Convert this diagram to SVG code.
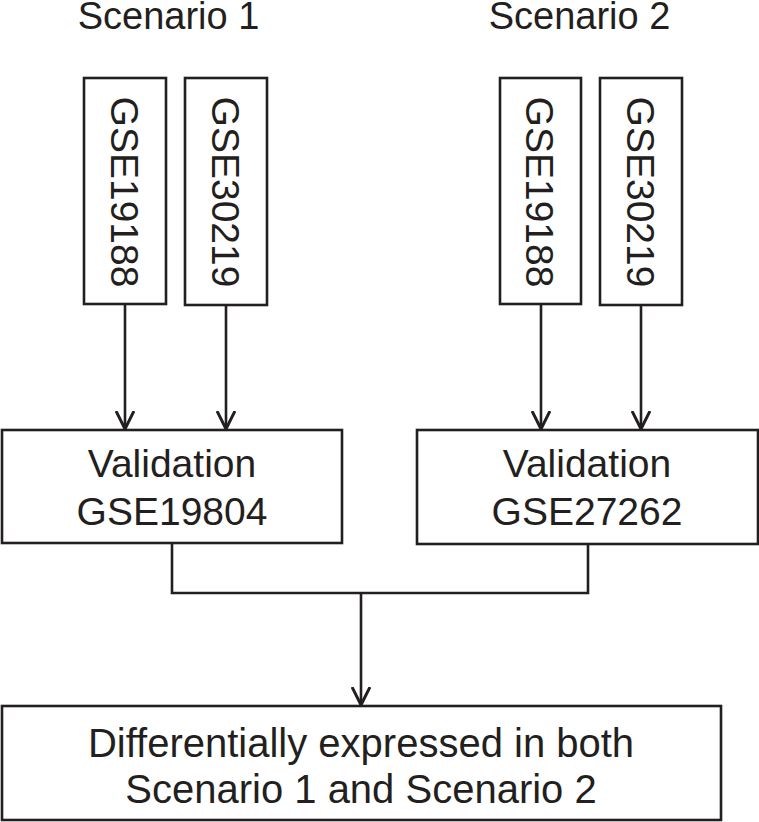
<svg xmlns="http://www.w3.org/2000/svg" width="759" height="822" viewBox="0 0 759 822">
<style>
.box{fill:#fff;stroke:#231f20;stroke-width:2.6}
.t{font-family:"Liberation Sans",Arial,sans-serif;font-size:39px;fill:#231f20;text-anchor:middle}
.c{fill:none;stroke:#231f20;stroke-width:2.6}
</style>
<defs>
<marker id="ah" viewBox="0 0 20 20" refX="18" refY="10" markerWidth="20" markerHeight="20" markerUnits="userSpaceOnUse" orient="auto">
<path d="M0,1 L18,10 L0,19" fill="none" stroke="#231f20" stroke-width="3"/>
</marker>
</defs>
<rect width="759" height="822" fill="#fff"/>
<g id="label-s1"><text class="t" x="168.5" y="29" style="font-size:38px">Scenario 1</text></g>
<g id="label-s2"><text class="t" x="579.5" y="29" style="font-size:38px">Scenario 2</text></g>
<g id="s1-gse19188"><rect class="box" x="84" y="78" width="82" height="226"/><text class="t" transform="translate(111,192) rotate(90)">GSE19188</text></g>
<g id="s1-gse30219"><rect class="box" x="185" y="78" width="82" height="227"/><text class="t" transform="translate(212,192) rotate(90)">GSE30219</text></g>
<g id="s2-gse19188"><rect class="box" x="500" y="78" width="81" height="226"/><text class="t" transform="translate(526,192) rotate(90)">GSE19188</text></g>
<g id="s2-gse30219"><rect class="box" x="600" y="78" width="82" height="227"/><text class="t" transform="translate(627,192) rotate(90)">GSE30219</text></g>
<g id="val1"><rect class="box" x="2" y="430" width="340" height="113"/><text class="t" x="172" y="477">Validation</text><text class="t" x="172" y="525">GSE19804</text></g>
<g id="val2"><rect class="box" x="417" y="430" width="341" height="114"/><text class="t" x="587" y="477">Validation</text><text class="t" x="587" y="525">GSE27262</text></g>
<g id="result"><rect class="box" x="2" y="706" width="719" height="114"/><text class="t" x="361" y="757" style="font-size:40px">Differentially expressed in both</text><text class="t" x="361" y="803" style="font-size:40px">Scenario 1 and Scenario 2</text></g>
<g id="connectors">
<line class="c" x1="125" y1="304" x2="125" y2="429" marker-end="url(#ah)"/>
<line class="c" x1="226" y1="305" x2="226" y2="429" marker-end="url(#ah)"/>
<line class="c" x1="541" y1="304" x2="541" y2="429" marker-end="url(#ah)"/>
<line class="c" x1="641" y1="305" x2="641" y2="429" marker-end="url(#ah)"/>
<path class="c" d="M172,543 V593 H588 V544"/>
<line class="c" x1="361" y1="593" x2="361" y2="705" marker-end="url(#ah)"/>
</g>
</svg>
